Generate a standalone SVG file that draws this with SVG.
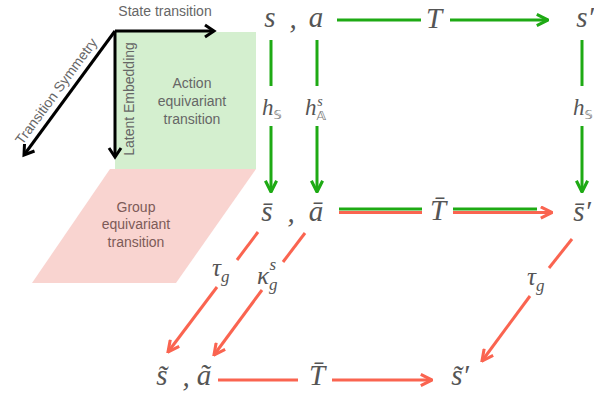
<svg xmlns="http://www.w3.org/2000/svg" width="594" height="395" viewBox="0 0 594 395">
<defs>
<style>
.lbl{font-family:"Liberation Sans",Arial,sans-serif;font-size:14px;fill:#666;}
.grp{font-family:"Liberation Sans",Arial,sans-serif;font-size:14px;fill:#7d5b58;text-anchor:middle;}
.act{font-family:"Liberation Sans",Arial,sans-serif;font-size:14px;fill:#666;text-anchor:middle;}
.m{font-family:"Liberation Serif","DejaVu Serif",serif;font-style:italic;font-size:29px;fill:#555;text-anchor:middle;}
.ms{font-family:"Liberation Serif","DejaVu Serif",serif;font-style:italic;font-size:23px;fill:#555;}
.sub{font-family:"DejaVu Sans",sans-serif;font-style:normal;font-size:13px;fill:#777;}
.k{stroke:#000;stroke-width:3;fill:none;}
.g{stroke:#1eaa14;stroke-width:3;fill:none;}
.r{stroke:#fa6450;stroke-width:3;fill:none;}
</style>
<marker id="ag" viewBox="0 0 10 10" refX="9" refY="5" markerWidth="14" markerHeight="14" markerUnits="userSpaceOnUse" orient="auto"><path d="M1,1 L9,5 L1,9" fill="none" stroke="#1eaa14" stroke-width="2.2"/></marker>
<marker id="ar" viewBox="0 0 10 10" refX="9" refY="5" markerWidth="14" markerHeight="14" markerUnits="userSpaceOnUse" orient="auto"><path d="M1,1 L9,5 L1,9" fill="none" stroke="#fa6450" stroke-width="2.2"/></marker>
</defs>

<g id="action-region">
<rect x="115" y="32" width="141" height="137" fill="#d4efcf"/>
<text class="act" x="192" y="88">Action</text>
<text class="act" x="192" y="106">equivariant</text>
<text class="act" x="192" y="124">transition</text>
</g>
<g id="group-region">
<polygon points="110,169 256,169 176,283 32,283" fill="#f9d4d0"/>
<text class="grp" x="136" y="212">Group</text>
<text class="grp" x="136" y="229">equivariant</text>
<text class="grp" x="136" y="247">transition</text>
</g>

<g id="axes">
<path class="k" d="M115,31 L214,31"/>
<path class="k" d="M205,25 L214,31 L205,37"/>
<path class="k" d="M115,31 L115,157"/>
<path class="k" d="M109,148 L115,157 L121,148"/>
<path class="k" d="M115,31 L24,155"/>
<path class="k" d="M24.5,144 L24,155 L34.5,151"/>
<text class="lbl" x="165" y="16" text-anchor="middle">State transition</text>
<text class="lbl" x="0" y="0" text-anchor="middle" transform="translate(60,94) rotate(-53.7)">Transition Symmetry</text>
<text class="lbl" x="0" y="0" text-anchor="middle" transform="translate(134,99) rotate(-90)">Latent Embedding</text>
</g>

<g id="connectors">
<path class="g" d="M337,20 L421,20"/>
<path class="g" d="M450,20 L548,20" marker-end="url(#ag)"/>
<path class="g" d="M271,40 L271,86"/>
<path class="g" d="M271,126 L271,192" marker-end="url(#ag)"/>
<path class="g" d="M317,40 L317,86"/>
<path class="g" d="M317,126 L317,192" marker-end="url(#ag)"/>
<path class="g" d="M582,40 L582,86"/>
<path class="g" d="M582,126 L582,192" marker-end="url(#ag)"/>
<path class="g" d="M339,209 L422,209"/>
<path class="g" d="M453,209 L537,209"/>
<path class="r" d="M339,212.5 L422,212.5"/>
<path class="r" d="M453,212.5 L552,212.5" marker-end="url(#ar)"/>
<path class="r" d="M258,232 L237,260"/>
<path class="r" d="M217,287 L168,352" marker-end="url(#ar)"/>
<path class="r" d="M305,233 L283,262"/>
<path class="r" d="M262,290 L214,355" marker-end="url(#ar)"/>
<path class="r" d="M572,239 L549,268"/>
<path class="r" d="M530,296 L482,361" marker-end="url(#ar)"/>
<path class="r" d="M218,380 L298,380"/>
<path class="r" d="M332,380 L432,380" marker-end="url(#ar)"/>
</g>

<g id="top-row">
<text class="m" x="270" y="27">s</text>
<text class="m" x="293" y="28">,</text>
<text class="m" x="316" y="27">a</text>
<text class="m" x="434" y="28">T</text>
<text class="m" x="585" y="27">s′</text>
</g>
<g id="h-labels">
<text class="ms" x="262" y="115">h<tspan class="sub" dy="4">𝕊</tspan></text>
<text class="ms" x="305" y="115">h<tspan class="sub" dy="5">𝔸</tspan><tspan class="ms" style="font-size:14px" dx="-9" dy="-14">s</tspan></text>
<text class="ms" x="573" y="115">h<tspan class="sub" dy="4">𝕊</tspan></text>
</g>
<g id="mid-row">
<text class="m" x="267" y="221">s̄</text>
<text class="m" x="291" y="222">,</text>
<text class="m" x="316" y="221">ā</text>
<text class="m" x="438" y="220">T̄</text>
<text class="m" x="582" y="221">s̄′</text>
</g>
<g id="tau-labels">
<text class="ms" x="212" y="276" style="font-size:25px">τ<tspan style="font-size:17px" dy="6">g</tspan></text>
<text class="ms" x="257" y="284" style="font-size:25px">κ<tspan style="font-size:17px" dy="6">g</tspan><tspan style="font-size:17px" dx="-8" dy="-20">s</tspan></text>
<text class="ms" x="527" y="285" style="font-size:25px">τ<tspan style="font-size:17px" dy="6">g</tspan></text>
</g>
<g id="bottom-row">
<text class="m" x="162" y="385">s̃</text>
<text class="m" x="186" y="386">,</text>
<text class="m" x="204" y="385">ã</text>
<text class="m" x="317" y="385">T̄</text>
<text class="m" x="460" y="385">s̃′</text>
</g>
</svg>
